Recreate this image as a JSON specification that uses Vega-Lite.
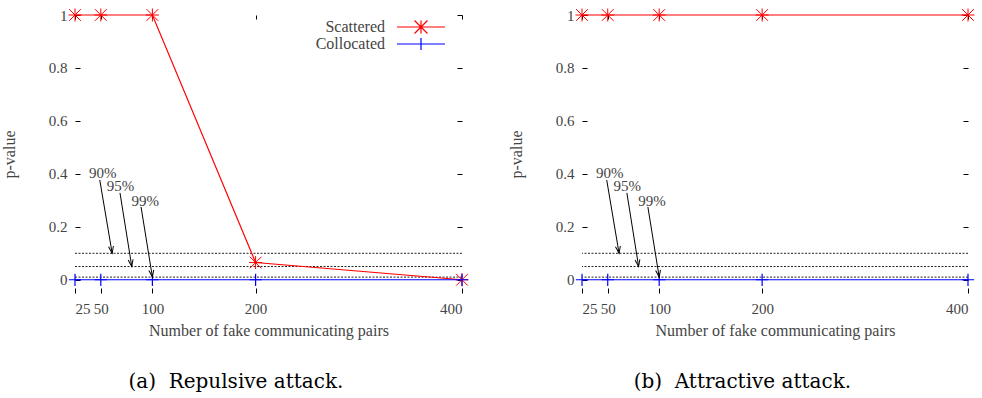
{
  "$schema": "https://vega.github.io/schema/vega-lite/v6.json",
  "background": "white",
  "padding": {"left": 1, "top": 6, "right": 10, "bottom": 5},
  "spacing": 37,
  "datasets": {
    "repulsive": [
      {"series": "Scattered", "pairs": 25, "p": 1},
      {"series": "Scattered", "pairs": 50, "p": 1},
      {"series": "Scattered", "pairs": 100, "p": 1},
      {"series": "Scattered", "pairs": 200, "p": 0.065},
      {"series": "Scattered", "pairs": 400, "p": 0},
      {"series": "Collocated", "pairs": 25, "p": 0},
      {"series": "Collocated", "pairs": 50, "p": 0},
      {"series": "Collocated", "pairs": 100, "p": 0},
      {"series": "Collocated", "pairs": 200, "p": 0},
      {"series": "Collocated", "pairs": 400, "p": 0}
    ],
    "attractive": [
      {"series": "Scattered", "pairs": 25, "p": 1},
      {"series": "Scattered", "pairs": 50, "p": 1},
      {"series": "Scattered", "pairs": 100, "p": 1},
      {"series": "Scattered", "pairs": 200, "p": 1},
      {"series": "Scattered", "pairs": 400, "p": 1},
      {"series": "Collocated", "pairs": 25, "p": 0},
      {"series": "Collocated", "pairs": 50, "p": 0},
      {"series": "Collocated", "pairs": 100, "p": 0},
      {"series": "Collocated", "pairs": 200, "p": 0},
      {"series": "Collocated", "pairs": 400, "p": 0}
    ],
    "thresholds": [{"level": 0.1}, {"level": 0.05}, {"level": 0.01}],
    "arrows": [
      {"label": "90%", "x1": 49, "y1": 0.377, "x2": 61, "y2": 0.1, "lx": 52, "ly": 0.403},
      {"label": "95%", "x1": 68.6, "y1": 0.328, "x2": 80, "y2": 0.05, "lx": 69, "ly": 0.353},
      {"label": "99%", "x1": 89, "y1": 0.275, "x2": 100, "y2": 0.01, "lx": 93, "ly": 0.297}
    ]
  },
  "config": {
    "view": {"stroke": null},
    "axis": {
      "domain": false,
      "grid": false,
      "tickColor": "black",
      "tickWidth": 1,
      "labelFont": "Liberation Serif",
      "labelFontSize": 15,
      "labelColor": "#444",
      "titleFont": "Liberation Serif",
      "titleFontSize": 16,
      "titleFontWeight": "normal",
      "titleColor": "#444"
    }
  },
  "hconcat": [
    {
      "width": 387,
      "height": 278,
      "title": {"text": "(a)\u00a0 Repulsive attack.", "orient": "bottom", "frame": "bounds", "anchor": "middle", "font": "DejaVu Serif", "fontSize": 20, "fontWeight": "normal", "color": "black", "offset": 34},
      "layer": [
        {
          "layer": [
            {
              "data": {"name": "thresholds"},
              "mark": {"type": "rule", "strokeDash": [2, 1.5], "color": "#222", "strokeWidth": 1},
              "encoding": {
                "y": {"field": "level", "type": "quantitative", "title": "p-value", "scale": {"domain": [-0.05, 1], "nice": false, "zero": false},
                  "axis": {"values": [0, 0.2, 0.4, 0.6, 0.8, 1], "format": "~g", "tickSize": -5, "labelPadding": 13, "titlePadding": 31}}
              }
            },
            {
              "data": {"name": "repulsive"},
              "mark": {"type": "line", "strokeWidth": 1.2},
              "encoding": {
                "x": {"field": "pairs", "type": "quantitative", "title": "Number of fake communicating pairs", "scale": {"domain": [25, 400], "nice": false, "zero": false},
                  "axis": {"values": [25, 50, 100, 200, 400], "tickSize": -5, "labelPadding": 13, "titlePadding": 6}},
                "y": {"field": "p", "type": "quantitative", "title": "p-value", "scale": {"domain": [-0.05, 1], "nice": false, "zero": false}},
                "color": {"field": "series", "type": "nominal",
                  "scale": {"domain": ["Scattered", "Collocated"], "range": ["#ff0000", "#0000ff"]},
                  "legend": {"orient": "none", "legendX": 338, "legendY": 4, "title": null, "padding": 0,
                    "labelFont": "Liberation Serif", "labelFontSize": 16, "labelColor": "#444", "labelAlign": "right", "labelOffset": -44,
                    "symbolSize": 144, "symbolStrokeWidth": 1.2, "rowPadding": -3,
                    "encode": {"symbols": {"update": {
                      "stroke": {"signal": "datum.value === 'Scattered' ? '#ff0000' : '#0000ff'"},
                      "shape": {"signal": "datum.value === 'Scattered' ? 'M-4,0L4,0M0,-1.08L0,1.08M-1.08,-1.08L1.08,1.08M-1.08,1.08L1.08,-1.08' : 'M-4,0L4,0M0,-1L0,1'"}}}}}
                }
              }
            },
            {
              "data": {"name": "repulsive"},
              "transform": [{"filter": "datum.series === 'Scattered'"}],
              "mark": {"type": "point", "shape": "M-1,0L1,0M0,-1L0,1M-0.9,-0.9L0.9,0.9M-0.9,0.9L0.9,-0.9", "filled": false, "color": "#ff0000", "size": 169, "strokeWidth": 1, "opacity": 1},
              "encoding": {
                "x": {"field": "pairs", "type": "quantitative", "title": "Number of fake communicating pairs", "scale": {"domain": [25, 400], "nice": false, "zero": false}},
                "y": {"field": "p", "type": "quantitative", "title": "p-value", "scale": {"domain": [-0.05, 1], "nice": false, "zero": false}}
              }
            },
            {
              "data": {"name": "repulsive"},
              "transform": [{"filter": "datum.series === 'Collocated'"}],
              "mark": {"type": "point", "shape": "M-1,0L1,0M0,-1L0,1", "filled": false, "color": "#0000ff", "size": 150, "strokeWidth": 1.2, "opacity": 1},
              "encoding": {
                "x": {"field": "pairs", "type": "quantitative", "title": "Number of fake communicating pairs", "scale": {"domain": [25, 400], "nice": false, "zero": false}},
                "y": {"field": "p", "type": "quantitative", "title": "p-value", "scale": {"domain": [-0.05, 1], "nice": false, "zero": false}}
              }
            },
            {
              "data": {"name": "arrows"},
              "mark": {"type": "rule", "color": "black", "strokeWidth": 1},
              "encoding": {
                "x": {"field": "x1", "type": "quantitative", "title": "Number of fake communicating pairs", "scale": {"domain": [25, 400], "nice": false, "zero": false}},
                "y": {"field": "y1", "type": "quantitative", "title": "p-value", "scale": {"domain": [-0.05, 1], "nice": false, "zero": false}},
                "x2": {"field": "x2"},
                "y2": {"field": "y2"}
              }
            },
            {
              "data": {"name": "arrows"},
              "mark": {"type": "point", "shape": "M-0.35,-1L0,0L0.35,-1", "filled": false, "color": "black", "size": 196, "strokeWidth": 1, "opacity": 1, "angle": 350.5},
              "encoding": {
                "x": {"field": "x2", "type": "quantitative", "title": "Number of fake communicating pairs", "scale": {"domain": [25, 400], "nice": false, "zero": false}},
                "y": {"field": "y2", "type": "quantitative", "title": "p-value", "scale": {"domain": [-0.05, 1], "nice": false, "zero": false}}
              }
            },
            {
              "data": {"name": "arrows"},
              "mark": {"type": "text", "font": "Liberation Serif", "fontSize": 15, "color": "#444"},
              "encoding": {
                "x": {"field": "lx", "type": "quantitative", "title": "Number of fake communicating pairs", "scale": {"domain": [25, 400], "nice": false, "zero": false}},
                "y": {"field": "ly", "type": "quantitative", "title": "p-value", "scale": {"domain": [-0.05, 1], "nice": false, "zero": false}},
                "text": {"field": "label"}
              }
            }
          ]
        },
        {
          "data": {"name": "repulsive"},
          "mark": {"type": "point", "opacity": 0},
          "encoding": {
            "x": {"field": "pairs", "type": "quantitative", "scale": {"domain": [25, 400], "nice": false, "zero": false},
              "axis": {"orient": "top", "values": [25, 50, 100, 200, 400], "labels": false, "tickSize": -4, "title": null}},
            "y": {"field": "p", "type": "quantitative", "scale": {"domain": [-0.05, 1], "nice": false, "zero": false},
              "axis": {"orient": "right", "values": [0, 0.2, 0.4, 0.6, 0.8, 1], "labels": false, "tickSize": -5, "title": null}}
          }
        }
      ],
      "resolve": {"scale": {"x": "independent", "y": "independent"}}
    },
    {
      "width": 386,
      "height": 278,
      "title": {"text": "(b)\u00a0 Attractive attack.", "orient": "bottom", "frame": "bounds", "anchor": "middle", "font": "DejaVu Serif", "fontSize": 20, "fontWeight": "normal", "color": "black", "offset": 34},
      "layer": [
        {
          "layer": [
            {
              "data": {"name": "thresholds"},
              "mark": {"type": "rule", "strokeDash": [2, 1.5], "color": "#222", "strokeWidth": 1},
              "encoding": {
                "y": {"field": "level", "type": "quantitative", "title": "p-value", "scale": {"domain": [-0.05, 1], "nice": false, "zero": false},
                  "axis": {"values": [0, 0.2, 0.4, 0.6, 0.8, 1], "format": "~g", "tickSize": -5, "labelPadding": 13, "titlePadding": 31}}
              }
            },
            {
              "data": {"name": "attractive"},
              "mark": {"type": "line", "strokeWidth": 1.2},
              "encoding": {
                "x": {"field": "pairs", "type": "quantitative", "title": "Number of fake communicating pairs", "scale": {"domain": [25, 400], "nice": false, "zero": false},
                  "axis": {"values": [25, 50, 100, 200, 400], "tickSize": -5, "labelPadding": 13, "titlePadding": 6}},
                "y": {"field": "p", "type": "quantitative", "title": "p-value", "scale": {"domain": [-0.05, 1], "nice": false, "zero": false}},
                "color": {"field": "series", "type": "nominal",
                  "scale": {"domain": ["Scattered", "Collocated"], "range": ["#ff0000", "#0000ff"]},
                  "legend": {"orient": "none", "legendX": 337, "legendY": 4, "title": null, "padding": 0,
                    "labelFont": "Liberation Serif", "labelFontSize": 16, "labelColor": "#444", "labelAlign": "right", "labelOffset": -44,
                    "symbolSize": 144, "symbolStrokeWidth": 1.2, "rowPadding": -3,
                    "encode": {"symbols": {"update": {
                      "stroke": {"signal": "datum.value === 'Scattered' ? '#ff0000' : '#0000ff'"},
                      "shape": {"signal": "datum.value === 'Scattered' ? 'M-4,0L4,0M0,-1.08L0,1.08M-1.08,-1.08L1.08,1.08M-1.08,1.08L1.08,-1.08' : 'M-4,0L4,0M0,-1L0,1'"}}}}}
                }
              }
            },
            {
              "data": {"name": "attractive"},
              "transform": [{"filter": "datum.series === 'Scattered'"}],
              "mark": {"type": "point", "shape": "M-1,0L1,0M0,-1L0,1M-0.9,-0.9L0.9,0.9M-0.9,0.9L0.9,-0.9", "filled": false, "color": "#ff0000", "size": 169, "strokeWidth": 1, "opacity": 1},
              "encoding": {
                "x": {"field": "pairs", "type": "quantitative", "title": "Number of fake communicating pairs", "scale": {"domain": [25, 400], "nice": false, "zero": false}},
                "y": {"field": "p", "type": "quantitative", "title": "p-value", "scale": {"domain": [-0.05, 1], "nice": false, "zero": false}}
              }
            },
            {
              "data": {"name": "attractive"},
              "transform": [{"filter": "datum.series === 'Collocated'"}],
              "mark": {"type": "point", "shape": "M-1,0L1,0M0,-1L0,1", "filled": false, "color": "#0000ff", "size": 150, "strokeWidth": 1.2, "opacity": 1},
              "encoding": {
                "x": {"field": "pairs", "type": "quantitative", "title": "Number of fake communicating pairs", "scale": {"domain": [25, 400], "nice": false, "zero": false}},
                "y": {"field": "p", "type": "quantitative", "title": "p-value", "scale": {"domain": [-0.05, 1], "nice": false, "zero": false}}
              }
            },
            {
              "data": {"name": "arrows"},
              "mark": {"type": "rule", "color": "black", "strokeWidth": 1},
              "encoding": {
                "x": {"field": "x1", "type": "quantitative", "title": "Number of fake communicating pairs", "scale": {"domain": [25, 400], "nice": false, "zero": false}},
                "y": {"field": "y1", "type": "quantitative", "title": "p-value", "scale": {"domain": [-0.05, 1], "nice": false, "zero": false}},
                "x2": {"field": "x2"},
                "y2": {"field": "y2"}
              }
            },
            {
              "data": {"name": "arrows"},
              "mark": {"type": "point", "shape": "M-0.35,-1L0,0L0.35,-1", "filled": false, "color": "black", "size": 196, "strokeWidth": 1, "opacity": 1, "angle": 350.5},
              "encoding": {
                "x": {"field": "x2", "type": "quantitative", "title": "Number of fake communicating pairs", "scale": {"domain": [25, 400], "nice": false, "zero": false}},
                "y": {"field": "y2", "type": "quantitative", "title": "p-value", "scale": {"domain": [-0.05, 1], "nice": false, "zero": false}}
              }
            },
            {
              "data": {"name": "arrows"},
              "mark": {"type": "text", "font": "Liberation Serif", "fontSize": 15, "color": "#444"},
              "encoding": {
                "x": {"field": "lx", "type": "quantitative", "title": "Number of fake communicating pairs", "scale": {"domain": [25, 400], "nice": false, "zero": false}},
                "y": {"field": "ly", "type": "quantitative", "title": "p-value", "scale": {"domain": [-0.05, 1], "nice": false, "zero": false}},
                "text": {"field": "label"}
              }
            }
          ]
        },
        {
          "data": {"name": "attractive"},
          "mark": {"type": "point", "opacity": 0},
          "encoding": {
            "x": {"field": "pairs", "type": "quantitative", "scale": {"domain": [25, 400], "nice": false, "zero": false},
              "axis": {"orient": "top", "values": [25, 50, 100, 200, 400], "labels": false, "tickSize": -4, "title": null}},
            "y": {"field": "p", "type": "quantitative", "scale": {"domain": [-0.05, 1], "nice": false, "zero": false},
              "axis": {"orient": "right", "values": [0, 0.2, 0.4, 0.6, 0.8, 1], "labels": false, "tickSize": -5, "title": null}}
          }
        }
      ],
      "resolve": {"scale": {"x": "independent", "y": "independent"}}
    }
  ]
}
